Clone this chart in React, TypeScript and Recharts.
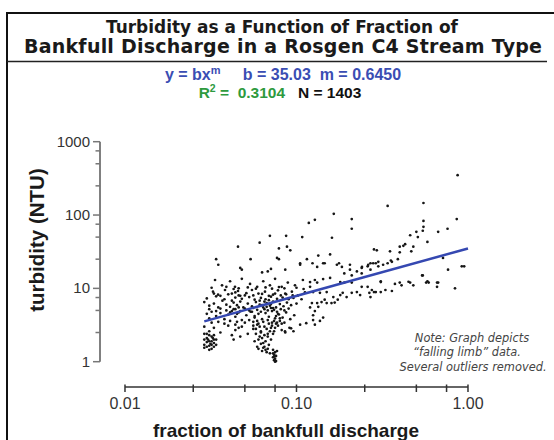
import React from "react";
import { ScatterChart, Scatter, XAxis, YAxis, ReferenceLine } from "recharts";

// fraction of bankfull discharge, turbidity (NTU)
const upperPoints: [number, number][] = [
  [0.87, 350], [0.34, 133], [0.55, 146], [0.86, 88], [0.165, 104], [0.21, 88], [0.21, 65],
  [0.118, 78], [0.128, 86], [0.55, 83], [0.55, 69], [0.545, 61], [0.58, 43], [0.67, 59],
  [0.76, 65], [0.46, 53], [0.5, 59], [0.51, 50], [0.07, 52], [0.087, 52], [0.108, 50],
  [0.061, 42], [0.0456, 37], [0.161, 49], [0.4, 37], [0.42, 38], [0.48, 37], [0.092, 33],
  [0.088, 37], [0.079, 35], [0.43, 40],
];

const midPoints: [number, number][] = [
  [0.034, 25], [0.054, 25], [0.077, 26], [0.079, 25], [0.115, 25], [0.157, 29], [0.134, 28],
  [0.048, 18], [0.071, 18.4], [0.105, 22], [0.177, 22], [0.205, 21], [0.283, 34], [0.294, 33],
  [0.351, 32], [0.4, 31], [0.467, 32], [0.29, 22], [0.241, 19.6], [0.715, 26], [0.765, 18],
  [0.92, 20], [0.95, 20], [0.84, 10], [0.54, 15], [0.59, 12], [0.67, 12], [0.46, 12], [0.4, 12],
  [0.31, 12.2], [0.283, 8.9], [0.266, 8.7], [0.355, 24], [0.39, 25], [0.32, 21], [0.27, 22],
  [0.3, 23], [0.143, 22], [0.132, 19.6], [0.184, 19.6], [0.24, 19], [0.26, 20], [0.146, 22],
  [0.172, 21], [0.205, 18], [0.262, 21], [0.28, 22], [0.3, 20], [0.34, 22], [0.36, 23],
  [0.21, 15], [0.225, 17], [0.24, 16], [0.27, 18], [0.19, 16], [0.035, 21], [0.047, 19],
  [0.063, 16.5], [0.068, 17], [0.086, 18], [0.105, 21], [0.124, 22],
];

const rightCloud: [number, number][] = [
  [0.12, 12.2], [0.128, 13], [0.143, 13.4], [0.157, 13.9], [0.18, 12.2], [0.19, 12], [0.21, 12],
  [0.24, 10.5], [0.26, 10.5], [0.275, 9.5], [0.29, 8.9], [0.31, 8.9], [0.33, 9.5], [0.36, 9.2],
  [0.31, 12.5], [0.375, 11.5], [0.41, 11], [0.45, 12.3], [0.48, 11], [0.545, 15], [0.57, 12],
  [0.66, 12], [0.66, 10.5], [0.58, 12.5], [0.125, 8.9], [0.137, 8.7], [0.15, 8.9], [0.164, 7.6],
  [0.18, 8.1], [0.186, 8.7], [0.196, 7.6], [0.21, 8.7], [0.235, 8.1], [0.27, 7.6], [0.225, 8.9],
  [0.123, 6.3], [0.132, 6.3], [0.14, 6.5], [0.15, 6.3], [0.16, 6.3], [0.167, 6.4], [0.174, 7],
  [0.146, 7], [0.134, 5.6], [0.128, 4.9], [0.12, 5.5], [0.125, 4.3], [0.137, 3.6], [0.128, 3.2],
  [0.143, 4],
];

const mainCloud: [number, number][] = [
  [0.0335, 13], [0.0368, 11], [0.041, 12.5], [0.0438, 10.5], [0.048, 13.5], [0.0536, 11.5],
  [0.059, 10.5], [0.064, 12.5], [0.07, 11], [0.075, 13.5], [0.082, 10.5], [0.089, 12],
  [0.098, 11], [0.109, 13], [0.12, 10.5], [0.132, 12],
  [0.0326, 9], [0.0349, 8.2], [0.0383, 9.5], [0.042, 8.5], [0.0456, 9.2], [0.05, 8], [0.055, 9.5],
  [0.06, 8.5], [0.0655, 9], [0.073, 8.2], [0.078, 9.4], [0.086, 8.5], [0.094, 9], [0.102, 8],
  [0.112, 8.8],
  [0.029, 6.5], [0.031, 5.8], [0.033, 6.2], [0.035, 5.5], [0.037, 6.8], [0.039, 6], [0.041, 5.6],
  [0.043, 6.4], [0.045, 5.9], [0.047, 6.6], [0.049, 5.5], [0.052, 6.2], [0.055, 5.7], [0.058, 6.5],
  [0.061, 6], [0.064, 5.5], [0.067, 6.3], [0.07, 5.8], [0.073, 6.6], [0.076, 5.5], [0.08, 6.1],
  [0.084, 5.7], [0.088, 6.4], [0.093, 5.9], [0.1, 6.2],
  [0.03, 7.3], [0.034, 7.8], [0.038, 7.1], [0.044, 7.5], [0.048, 7.2], [0.053, 7.6], [0.057, 7],
  [0.062, 7.4], [0.066, 7.1], [0.071, 7.7], [0.077, 7.2], [0.083, 7.5], [0.09, 7.1], [0.096, 7.4],
  [0.107, 7.1],
  [0.03, 4.5], [0.031, 3.9], [0.032, 4.8], [0.034, 4.2], [0.036, 4.6], [0.038, 3.8], [0.04, 4.4],
  [0.042, 4.9], [0.044, 4.1], [0.046, 4.7], [0.048, 3.7], [0.051, 4.3], [0.054, 4.8], [0.057, 4],
  [0.06, 4.5], [0.063, 3.8], [0.066, 4.6], [0.069, 4.1], [0.072, 4.9], [0.075, 3.9], [0.079, 4.4],
  [0.083, 4], [0.087, 4.7], [0.092, 3.8], [0.097, 4.3],
  [0.029, 3], [0.031, 2.6], [0.033, 2.9], [0.036, 2.5], [0.04, 3.1], [0.044, 2.7], [0.048, 3],
  [0.052, 2.4], [0.056, 2.8], [0.059, 3.2], [0.062, 2.6], [0.065, 3], [0.068, 2.4], [0.071, 2.9],
  [0.074, 2.6], [0.078, 3.1], [0.082, 2.7], [0.086, 2.5], [0.091, 2.9], [0.096, 2.6],
  [0.0857, 2.6], [0.093, 2.85], [0.105, 3.2], [0.114, 3.35], [0.125, 3.7],
  [0.031, 5.2], [0.034, 4.9], [0.036, 5.3], [0.039, 5], [0.041, 4.7], [0.044, 5.2], [0.047, 4.9],
  [0.05, 5.3], [0.053, 5], [0.056, 5.4], [0.059, 5.1], [0.062, 4.8], [0.065, 5.2], [0.068, 5],
  [0.071, 5.4], [0.074, 5.1], [0.077, 4.8], [0.081, 5.2], [0.085, 5], [0.09, 5.3],
  [0.032, 3.4], [0.035, 3.5], [0.038, 3.3], [0.041, 3.6], [0.05, 3.4], [0.053, 3.7], [0.056, 3.5],
  [0.06, 3.3], [0.064, 3.5], [0.068, 3.7], [0.072, 3.4], [0.076, 3.3], [0.08, 3.6], [0.085, 3.4],
  [0.033, 8.5], [0.036, 7.9], [0.04, 8.3], [0.046, 8], [0.051, 8.6], [0.056, 8], [0.063, 8.4],
  [0.069, 7.9], [0.075, 8.5], [0.081, 8], [0.087, 8.3], [0.095, 8], [0.032, 10.2], [0.039, 10.5],
  [0.046, 10], [0.052, 10.3], [0.058, 9.9], [0.066, 10.3], [0.072, 9.9], [0.079, 10.4],
  [0.085, 10], [0.1, 10.2], [0.11, 9.8],
  [0.061, 6.8], [0.063, 5.9], [0.065, 6.6], [0.067, 5.6], [0.069, 6.9], [0.071, 6.1], [0.073, 5.4],
  [0.042, 6.8], [0.043, 5.2], [0.044, 8.8], [0.045, 4.5], [0.046, 5.5], [0.047, 7.9], [0.043, 9.8],
  [0.045, 3.5], [0.044, 3.2], [0.046, 2.9], [0.042, 2.3], [0.047, 2.2], [0.043, 2],
];

const leftBlob: [number, number][] = [
  [0.029, 2.4], [0.03, 2.1], [0.031, 1.9], [0.032, 2.2], [0.033, 1.8], [0.029, 1.7], [0.03, 1.6],
  [0.031, 2.3], [0.032, 1.5], [0.033, 2], [0.034, 1.7], [0.029, 2], [0.03, 1.85], [0.031, 1.65],
  [0.032, 1.9], [0.033, 2.3], [0.034, 2], [0.03, 2.4], [0.031, 1.45], [0.032, 1.7], [0.029, 1.55],
  [0.033, 1.6], [0.0305, 2], [0.0315, 1.75], [0.0325, 2.1],
];

const midStripe: [number, number][] = [
  [0.055, 4.8], [0.057, 4.2], [0.059, 3.6], [0.061, 3], [0.062, 2.5], [0.063, 2.1], [0.064, 1.8],
  [0.065, 1.6], [0.066, 1.45], [0.067, 1.35], [0.058, 2.4], [0.06, 2], [0.062, 1.75], [0.064, 1.55],
  [0.066, 1.9], [0.068, 2.2], [0.07, 2.6], [0.072, 3.1], [0.074, 3.6], [0.076, 4.2], [0.069, 1.7],
  [0.071, 2], [0.073, 2.4], [0.075, 2.9], [0.077, 3.4], [0.078, 4.5], [0.08, 3.9], [0.082, 3.3],
  [0.06, 1.5], [0.063, 1.4], [0.065, 2.3], [0.067, 2.8], [0.069, 3.3], [0.056, 3.1], [0.058, 2.8],
  [0.061, 2.2], [0.059, 1.6], [0.057, 1.9], [0.068, 1.5], [0.07, 1.3],
  [0.073, 1.45], [0.075, 1.35], [0.074, 1.25], [0.076, 1.2], [0.073, 1.15], [0.075, 1.1],
  [0.074, 1.05], [0.076, 1.02], [0.073, 1.3], [0.077, 1.4], [0.075, 1], [0.074, 1.18],
];

// fitted power line, ends
const fitLine: [number, number][] = [
  [0.029, 3.55],
  [1.0, 35.0],
];

const xMajorTicks = [0.01, 0.1, 1];
const xTickLabels = ["0.01", "0.10", "1.00"];
const xMinorTicks = [0.025, 0.05, 0.075, 0.25, 0.5, 0.75];
const yMajorTicks = [1, 10, 100, 1000];
const yTickLabels = ["1", "10", "100", "1000"];
const yMinorTicks = [2.5, 5, 7.5, 25, 50, 75, 250, 500, 750];

// domains reach out to where the axes sit
const xDomain = [0.00715, 1.175];
const yDomain = [0.4518, 1000];

const toPoints = (arr: [number, number][]) => arr.map(([x, y]) => ({ x, y }));

const scatterData = toPoints([
  ...upperPoints,
  ...midPoints,
  ...rightCloud,
  ...mainCloud,
  ...leftBlob,
  ...midStripe,
]);

const SANS = "'Liberation Sans', Arial, sans-serif";
const TITLE_FONT = "'DejaVu Sans', Verdana, sans-serif";

const XTick = (props: any) => {
  const { x, y, payload } = props;
  const i = xMajorTicks.indexOf(payload.value);
  return (
    <g>
      <line x1={x} x2={x} y1={y - 2.5} y2={y + 5} stroke="#333" strokeWidth={1.5} />
      {i >= 0 && (
        <text x={x} y={y + 22} textAnchor="middle" fontSize={16} fill="#333" fontFamily={SANS}>
          {xTickLabels[i]}
        </text>
      )}
    </g>
  );
};

const YTick = (props: any) => {
  const { x, y, payload } = props;
  const i = yMajorTicks.indexOf(payload.value);
  return (
    <g>
      <line x1={x - (i >= 0 ? 7 : 4.5)} x2={x} y1={y} y2={y} stroke="#777" strokeWidth={1.5} />
      {i >= 0 && (
        <text x={x - 10} y={y + 5} textAnchor="end" fontSize={15} fill="#333" fontFamily={SANS}>
          {yTickLabels[i]}
        </text>
      )}
    </g>
  );
};

const Dot = (props: any) => <circle cx={props.cx} cy={props.cy} r={1.35} fill="#161616" />;
const NoDot = () => <g />;

export default function App() {
  return (
    <div style={{ position: "absolute", left: 0, top: 0, width: 554, height: 440, background: "#fff" }}>
      <ScatterChart width={554} height={440} margin={{ top: 141.7, right: 74, bottom: 13, left: 40 }}>
        <rect x={7} y={13} width={600} height={500} fill="none" stroke="#111" strokeWidth={2} />
        <text
          x={282}
          y={33}
          textAnchor="middle"
          fontSize={18.5}
          fontWeight="bold"
          fill="#1a1a1a"
          fontFamily={TITLE_FONT}
          textLength={352}
          lengthAdjust="spacingAndGlyphs"
        >
          Turbidity as a Function of Fraction of
        </text>
        <text
          x={283}
          y={53}
          textAnchor="middle"
          fontSize={19}
          fontWeight="bold"
          fill="#1a1a1a"
          fontFamily={TITLE_FONT}
          textLength={518}
          lengthAdjust="spacing"
        >
          Bankfull Discharge in a Rosgen C4 Stream Type
        </text>
        <line x1={7} x2={547} y1={61.5} y2={61.5} stroke="#222" strokeWidth={1.5} />
        <text x={283} y={80} textAnchor="middle" fontSize={16} fontWeight="bold" fill="#3a4db3" fontFamily={SANS}>
          y = bx<tspan dy={-6} fontSize={11}>m</tspan>
          <tspan dy={6}>{"\u00a0\u00a0\u00a0\u00a0\u00a0b = 35.03\u00a0\u00a0m = 0.6450"}</tspan>
        </text>
        <text x={280} y={97.5} textAnchor="middle" fontSize={15.5} fontWeight="bold" fontFamily={SANS}>
          <tspan fill="#2e9a3e">R</tspan>
          <tspan fill="#2e9a3e" dy={-6} fontSize={10.5}>2</tspan>
          <tspan fill="#2e9a3e" dy={6}>{"\u00a0=\u00a0\u00a00.3104"}</tspan>
          <tspan fill="#111">{"\u00a0\u00a0\u00a0N = 1403"}</tspan>
        </text>
        <text
          x={36}
          y={240}
          transform="rotate(-90 36 240)"
          textAnchor="middle"
          dominantBaseline="central"
          fontSize={20.5}
          fontWeight="bold"
          fill="#1a1a1a"
          fontFamily={SANS}
        >
          turbidity (NTU)
        </text>
        <text x={286} y={436.5} textAnchor="middle" fontSize={19} fontWeight="bold" fill="#1a1a1a" fontFamily={SANS}>
          fraction of bankfull discharge
        </text>
        <g fontFamily={TITLE_FONT} fontStyle="italic" fontSize={11.4} fill="#444" textAnchor="middle">
          <text x={472} y={342}>Note: Graph depicts</text>
          <text x={467} y={356}>{"\u201cfalling limb\u201d data."}</text>
          <text x={473} y={371}>Several outliers removed.</text>
        </g>

        <XAxis
          dataKey="x"
          type="number"
          scale="log"
          domain={xDomain}
          allowDataOverflow
          ticks={[...xMajorTicks, ...xMinorTicks].sort((a, b) => a - b)}
          interval={0}
          axisLine={false}
          tickLine={false}
          tickSize={0}
          tickMargin={0}
          tick={<XTick />}
          height={40}
        />
        <YAxis
          dataKey="y"
          type="number"
          scale="log"
          domain={yDomain}
          allowDataOverflow
          ticks={[...yMajorTicks, ...yMinorTicks].sort((a, b) => a - b)}
          interval={0}
          axisLine={false}
          tickLine={false}
          tickSize={0}
          tickMargin={0}
          tick={<YTick />}
          width={60}
        />
        <ReferenceLine
          segment={[{ x: 0.01, y: yDomain[0] }, { x: 1, y: yDomain[0] }]}
          stroke="#333"
          strokeWidth={1.5}
          ifOverflow="visible"
        />
        <ReferenceLine
          segment={[{ x: xDomain[0], y: 1 }, { x: xDomain[0], y: 1000 }]}
          stroke="#808080"
          strokeWidth={2}
          ifOverflow="visible"
        />
        <Scatter data={scatterData} shape={<Dot />} isAnimationActive={false} />
        <Scatter
          data={toPoints(fitLine)}
          line={{ stroke: "#3548b1", strokeWidth: 2.5 }}
          shape={<NoDot />}
          isAnimationActive={false}
        />
      </ScatterChart>
    </div>
  );
}
